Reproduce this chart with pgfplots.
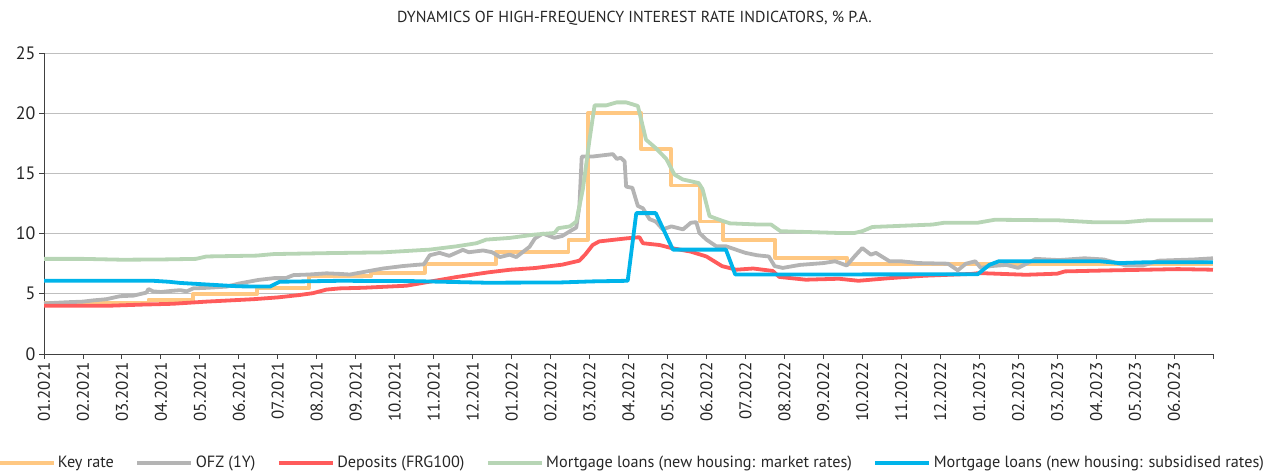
\documentclass[border=0pt]{standalone}
\usepackage{pgfplots}
\pgfplotsset{compat=1.18}
\usepackage{fontspec}
\setmainfont{PT Sans}
\definecolor{keyc}{HTML}{FFC882}
\definecolor{ofzc}{HTML}{B4B4B4}
\definecolor{depc}{HTML}{FF5B5B}
\definecolor{mortc}{HTML}{B7D5B5}
\definecolor{subc}{HTML}{00B4EA}
\definecolor{gridc}{HTML}{BFBFBF}
\definecolor{axc}{HTML}{404040}
\begin{document}
\begin{tikzpicture}[x=1bp,y=1bp]
\path[use as bounding box] (0,0) rectangle (1271,475);
\node[font=\fontsize{16}{19}\selectfont, text=black!85] at (634.5,457) {DYNAMICS OF HIGH-FREQUENCY INTEREST RATE INDICATORS, \% P.A.};
\begin{axis}[
  at={(44bp,121bp)}, anchor=south west,
  scale only axis, width=1169bp, height=301bp,
  xmin=0, xmax=30, ymin=0, ymax=25,
  axis lines*=left,
  axis line style={axc, line width=0.9bp},
  ytick={0,5,...,25},
  ymajorgrids, grid style={gridc, line width=0.9bp},
  xtick={0,...,30},
  xticklabels={01.2021,02.2021,03.2021,04.2021,05.2021,06.2021,07.2021,08.2021,09.2021,10.2021,11.2021,12.2021,01.2022,02.2022,03.2022,04.2022,05.2022,06.2022,07.2022,08.2022,09.2022,10.2022,11.2022,12.2022,01.2023,02.2023,03.2023,04.2023,05.2023,06.2023,{}},
  x tick label style={rotate=90, anchor=east, font=\fontsize{17}{20}\selectfont, text=black!85},
  y tick label style={font=\fontsize{18}{20}\selectfont, text=black!85},
  /pgf/number format/assume math mode=true,
  tick align=outside, major tick length=5bp,
  tick style={axc, line width=0.9bp},
  xtick pos=bottom, ytick pos=left,
  legend columns=5,
  legend style={at={(axis description cs:0.503,-0.362)}, anchor=center, draw=none, fill=none,
    font=\fontsize{16.3}{19}\selectfont, text=black!85,
    /tikz/every even column/.append style={column sep=19bp},
    nodes={inner sep=2.5bp}},
  legend image code/.code={\draw[#1] (0bp,0bp) -- (54bp,0bp);},
  every axis plot/.append style={line width=3.8bp, mark=none, line join=round},
  clip=false,
]
\addplot[keyc, const plot] coordinates {(0,4.25)(2.68,4.5)(3.83,5.0)(5.47,5.5)(6.81,6.5)(8.4,6.75)(9.77,7.5)(11.61,8.5)(13.46,9.5)(13.96,20)(15.33,17)(16.1,14)(16.84,11)(17.43,9.5)(18.77,8)(20.6,7.5)(30,7.5)};
\addlegendentry{Key rate}
\addplot[ofzc] coordinates {(0,4.2)(0.3,4.25)(0.6,4.3)(1.0,4.35)(1.26,4.45)(1.6,4.55)(1.95,4.8)(2.3,4.85)(2.63,5.1)(2.68,5.4)(2.8,5.2)(3.0,5.15)(3.3,5.25)(3.5,5.3)(3.66,5.2)(3.83,5.45)(4.2,5.5)(4.7,5.6)(5.0,5.85)(5.5,6.15)(5.9,6.3)(6.2,6.3)(6.4,6.55)(6.8,6.6)(7.25,6.7)(7.6,6.65)(7.85,6.6)(8.27,6.85)(8.7,7.1)(9.2,7.3)(9.55,7.4)(9.75,7.45)(9.9,8.2)(10.15,8.4)(10.4,8.15)(10.75,8.65)(10.9,8.45)(11.27,8.6)(11.5,8.45)(11.7,8.05)(11.95,8.25)(12.12,8.05)(12.46,8.9)(12.6,9.6)(12.8,10.0)(13.1,9.65)(13.3,9.8)(13.5,10.2)(13.66,10.5)(13.74,12.3)(13.8,16.4)(14.08,16.4)(14.6,16.6)(14.7,16.2)(14.8,16.3)(14.9,16.0)(14.94,13.9)(15.1,13.8)(15.24,12.3)(15.37,12.1)(15.54,11.2)(15.7,11.0)(15.88,10.35)(16.1,10.6)(16.4,10.35)(16.6,10.9)(16.74,10.95)(16.82,10.05)(17.0,9.5)(17.25,8.95)(17.5,8.95)(18.0,8.4)(18.3,8.2)(18.6,8.1)(18.75,7.3)(18.96,7.15)(19.4,7.4)(20.0,7.55)(20.3,7.7)(20.6,7.35)(20.8,8.1)(21.0,8.8)(21.22,8.25)(21.35,8.4)(21.7,7.7)(22.0,7.7)(22.46,7.55)(23.2,7.5)(23.45,6.95)(23.66,7.5)(23.9,7.7)(24.04,7.15)(24.3,7.3)(24.7,7.4)(25.0,7.15)(25.45,7.9)(26.05,7.8)(26.7,7.95)(27.2,7.85)(27.76,7.35)(28.2,7.35)(28.6,7.75)(29.5,7.85)(30,7.95)};
\addlegendentry{OFZ (1Y)}
\addplot[depc] coordinates {(0,4.0)(1.6,4.0)(2.5,4.1)(3.3,4.17)(4.17,4.35)(5.37,4.55)(6.0,4.7)(6.56,4.9)(6.9,5.05)(7.25,5.35)(7.6,5.45)(8.2,5.5)(9.3,5.67)(9.8,5.95)(10.6,6.4)(11.4,6.78)(11.97,7.0)(12.6,7.14)(13.3,7.42)(13.74,7.75)(13.9,8.3)(14.08,9.05)(14.25,9.35)(14.94,9.6)(15.28,9.7)(15.37,9.2)(15.8,9.05)(16.1,8.8)(16.6,8.5)(17.0,8.1)(17.4,7.3)(17.76,7.0)(18.2,7.1)(18.7,6.9)(18.87,6.4)(19.55,6.17)(20.4,6.25)(20.9,6.08)(21.7,6.3)(22.6,6.5)(23.8,6.65)(24.0,6.72)(25.2,6.58)(26.0,6.67)(26.2,6.86)(27.3,6.94)(28.3,7.0)(29.1,7.05)(30,7.0)};
\addlegendentry{Deposits (FRG100)}
\addplot[mortc] coordinates {(0,7.9)(1,7.9)(2.0,7.83)(3.0,7.85)(3.9,7.9)(4.17,8.1)(5.45,8.17)(5.9,8.3)(7.33,8.38)(8.7,8.44)(9.9,8.67)(10.58,8.94)(11.1,9.2)(11.35,9.5)(11.95,9.64)(12.6,9.92)(13.1,10.05)(13.2,10.45)(13.5,10.6)(13.66,11.0)(13.83,13.7)(14.0,17.8)(14.13,20.65)(14.43,20.65)(14.7,20.9)(14.94,20.9)(15.24,20.6)(15.3,19.8)(15.45,17.8)(15.7,17.1)(15.97,16.2)(16.18,14.9)(16.39,14.5)(16.8,14.2)(16.9,13.7)(17.08,11.45)(17.33,11.15)(17.6,10.85)(18.36,10.75)(18.66,10.75)(18.9,10.2)(20.4,10.05)(20.8,10.05)(21.0,10.2)(21.26,10.55)(22.8,10.75)(23.1,10.9)(23.96,10.9)(24.4,11.15)(26.05,11.1)(26.9,10.95)(27.76,10.95)(28.3,11.1)(30,11.1)};
\addlegendentry{Mortgage loans (new housing: market rates)}
\addplot[subc] coordinates {(0,6.08)(2.8,6.08)(3.2,6.0)(3.5,5.9)(4.3,5.75)(5.0,5.62)(5.8,5.6)(6.05,6.0)(7.6,6.08)(9.5,6.05)(11.35,5.92)(13.23,5.94)(14.08,6.03)(14.98,6.08)(15.2,11.7)(15.7,11.7)(16.14,8.67)(17.5,8.67)(17.74,6.6)(23.96,6.62)(24.26,7.4)(24.5,7.7)(27.1,7.7)(27.6,7.55)(28.3,7.62)(30,7.62)};
\addlegendentry{Mortgage loans (new housing: subsidised rates)}
\end{axis}
\end{tikzpicture}
\end{document}
